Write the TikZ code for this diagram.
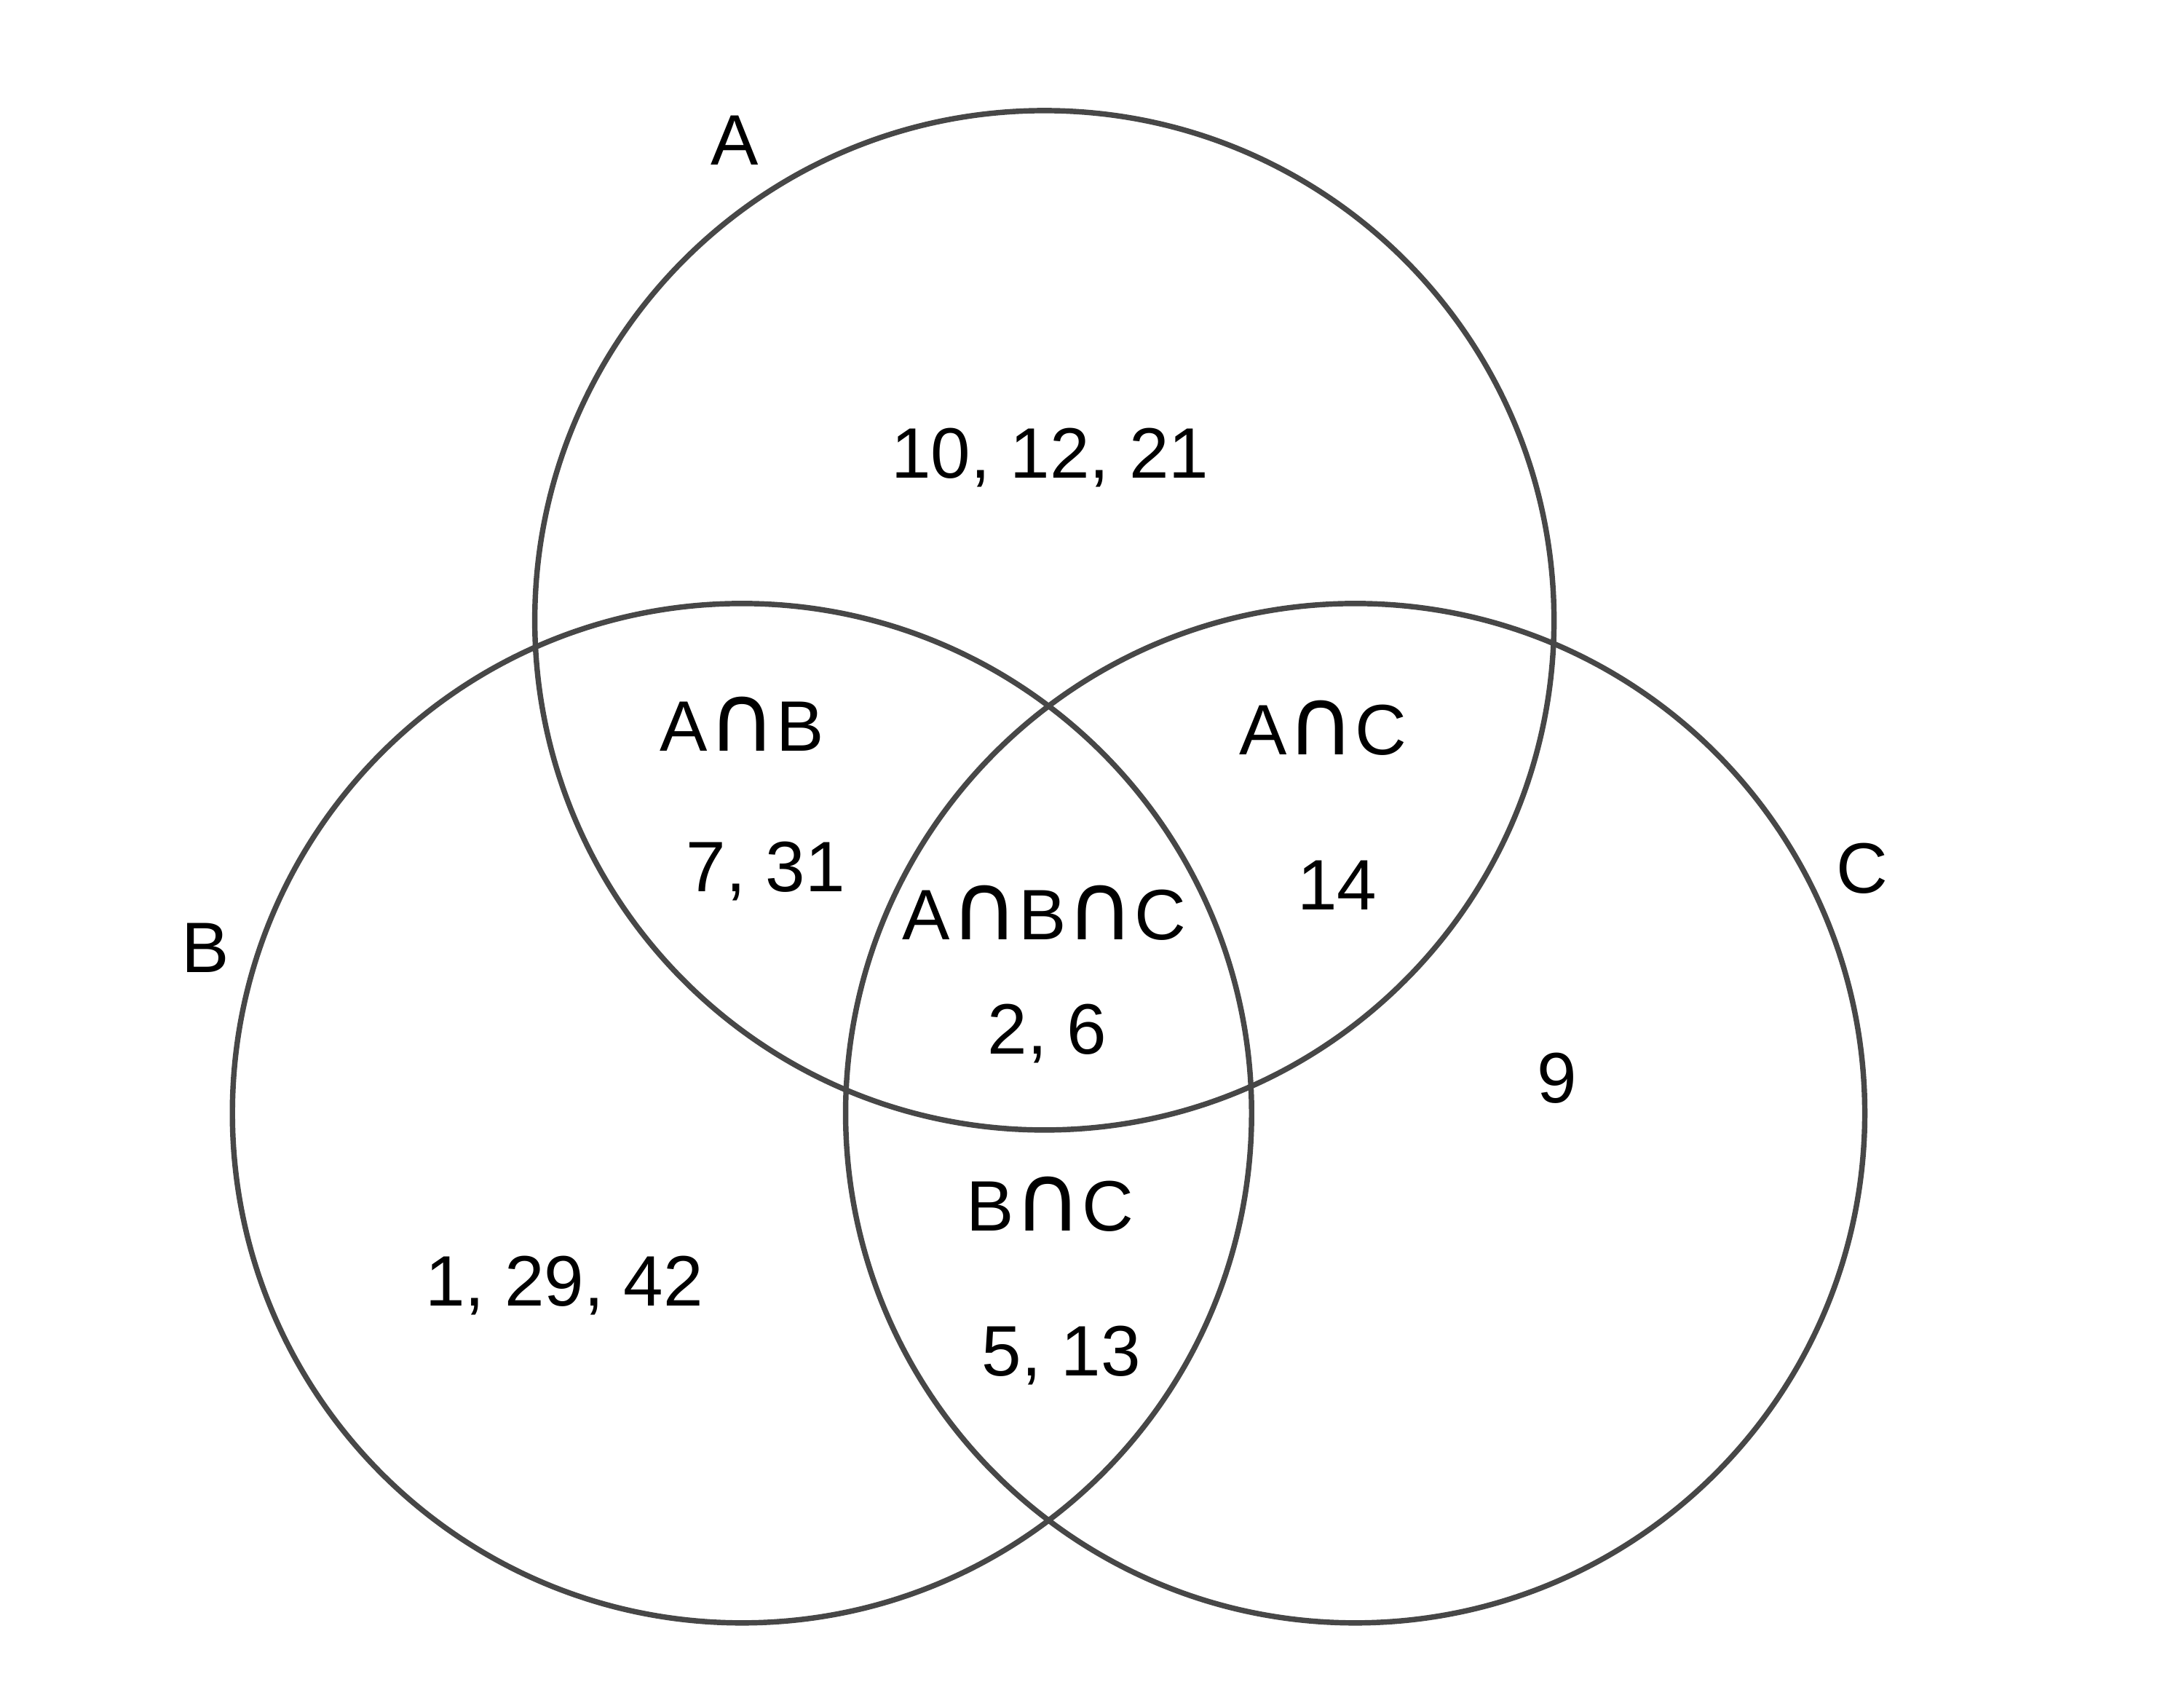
\documentclass[tikz,border=0pt]{standalone}
\usepackage{fontspec}
\setmainfont{Liberation Sans}
\newfontfamily\dvf{DejaVu Sans}
\newcommand{\ic}{{\dvf\fontsize{19}{17}\selectfont ∩}}
\begin{document}
\begin{tikzpicture}[x=0.01cm,y=-0.01cm,
  circ/.style={draw=black!72,line width=1.1pt},
  lab/.style={font=\fontsize{14.5}{17}\selectfont,inner sep=0pt}]
\useasboundingbox (0,0) rectangle (1560,1201);
\draw[circ] (746,443) circle[radius=364];
\draw[circ] (530,795) circle[radius=364];
\draw[circ] (968,795) circle[radius=364];
\node[lab] (la) at (525,100) {A};
\node[lab] (lb) at (147,677) {B};
\node[lab] (lc) at (1330,620) {C};
\node[lab] (a) at (750,327) {10, 12, 21};
\node[lab] (ab) at (530,517) {A\ic B};
\node[lab] (abv) at (547,622) {7, 31};
\node[lab] (ac) at (945,520) {A\ic C};
\node[lab] (acv) at (955,632) {14};
\node[lab] (abc) at (746,652) {A\ic B\ic C};
\node[lab] (abcv) at (748,738) {2, 6};
\node[lab] (c) at (1112,770) {9};
\node[lab] (bc) at (750,860) {B\ic C};
\node[lab] (b) at (403,918) {1, 29, 42};
\node[lab] (bcv) at (758,968) {5, 13};
\end{tikzpicture}
\end{document}
